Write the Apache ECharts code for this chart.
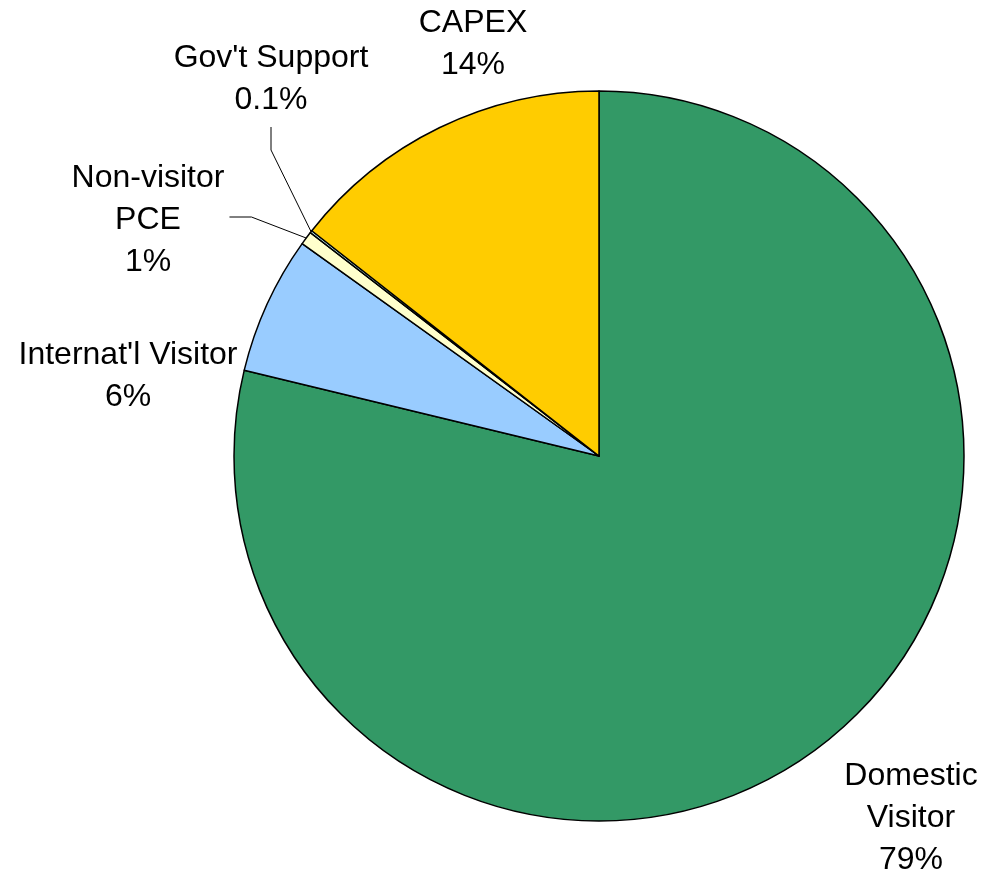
<!DOCTYPE html>
<html>
<head>
<meta charset="utf-8">
<style>
  html, body { margin: 0; padding: 0; background: #ffffff; }
  #chart { width: 985px; height: 872px; }
</style>
<script src="https://cdn.jsdelivr.net/npm/echarts@6/dist/echarts.min.js"></script>
</head>
<body>
<div id="chart"></div>
<script>
// Revenue sources, clockwise from 12 o'clock
const categories = ['Domestic\nVisitor', "Internat'l Visitor", 'Non-visitor\nPCE', "Gov't Support", 'CAPEX'];
const shares = [78.7, 6.1, 0.6, 0.1, 14.4];            // percent of total
const sliceColors = ['#339966', '#99CCFF', '#FFFFCC', '#CCFFFF', '#FFCC00'];

// Label block centres and leader-line style per slice
const labelCentres = [[911, 818], [128, 376], [148, 220], [271, 79], [473, 44]];
const leaderKind = [null, null, 'side', 'up', null];

function pctText(v) {
  return (v < 0.5 ? v.toFixed(1) : Math.round(v).toString()) + '%';
}

const chart = echarts.init(document.getElementById('chart'), null, { renderer: 'canvas' });

const data = categories.map((name, i) => ({
  name: name,
  value: shares[i],
  itemStyle: { color: sliceColors[i] },
  labelLine: { show: leaderKind[i] !== null }
}));

chart.setOption({
  animation: false,
  backgroundColor: '#ffffff',
  series: [{
    type: 'pie',
    center: [599, 456],
    radius: 365,
    startAngle: 90,
    clockwise: true,
    avoidLabelOverlap: false,
    data: data,
    itemStyle: { borderColor: '#000000', borderWidth: 1.5 },
    label: {
      show: true,
      position: 'outside',
      formatter: p => p.name + '\n' + pctText(p.value),
      fontFamily: "'Liberation Sans', Arial, sans-serif",
      fontSize: 32,
      lineHeight: 42,
      color: '#000000',
      align: 'center'
    },
    labelLine: {
      show: true,
      length: 10,
      length2: 10,
      lineStyle: { color: '#000000', width: 1 }
    },
    labelLayout: function (params) {
      const i = params.dataIndex;
      const c = labelCentres[i];
      const w = params.labelRect.width;
      const h = params.labelRect.height;
      const out = { x: c[0], y: c[1], align: 'center', verticalAlign: 'middle' };
      const anchor = params.labelLinePoints ? params.labelLinePoints[0] : null;
      if (anchor && leaderKind[i] === 'up') {
        const bottom = c[1] + h / 2 + 6;
        out.labelLinePoints = [anchor, [c[0], bottom + 23], [c[0], bottom]];
      } else if (anchor && leaderKind[i] === 'side') {
        const right = c[0] + w / 2 + 5;
        out.labelLinePoints = [anchor, [right + 22, c[1] - 3], [right, c[1] - 3]];
      }
      return out;
    }
  }]
});
</script>
</body>
</html>
